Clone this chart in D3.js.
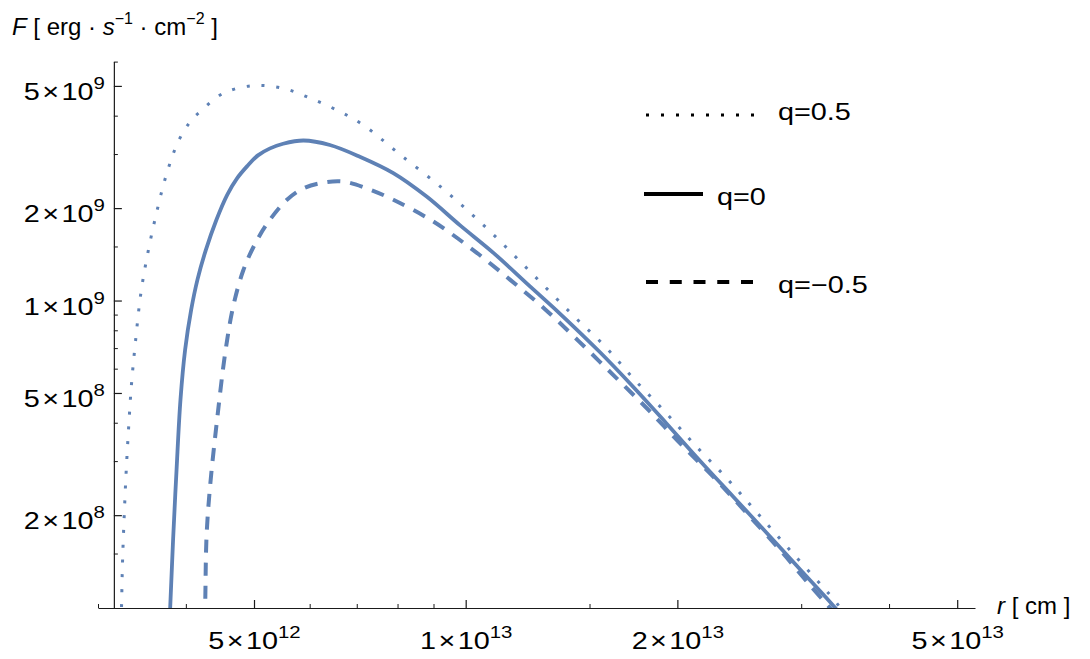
<!DOCTYPE html>
<html>
<head>
<meta charset="utf-8">
<script src="https://d3js.org/d3.v7.min.js"></script>
<style>
  body { margin: 0; background: #fff; }
  svg { display: block; font-family: "Liberation Sans", Arial, sans-serif; }
</style>
</head>
<body>
<script>
(function() {

    // q = 0.5 (dotted)
    const rDotted = [3.235e12, 3.24e12, 3.25e12, 3.267e12, 3.288e12, 3.315e12, 3.347e12, 3.39e12, 3.454e12, 3.534e12,
      3.628e12, 3.748e12, 3.898e12, 4.054e12, 4.19e12, 4.52e12, 4.99e12, 5.50e12, 6.01e12, 6.56e12,
      7.15e12, 8.02e12, 9.35e12, 1.077e13, 1.24e13, 1.42e13, 1.58e13, 1.74e13, 1.93e13, 2.13e13,
      2.35e13, 2.59e13, 2.92e13, 3.33e13, 3.43e13];
    const fDotted = [0.9e8, 1.0e8, 1.38e8, 1.93e8, 2.70e8, 3.79e8, 5.31e8, 7.27e8, 1.066e9, 1.44e9,
      1.90e9, 2.545e9, 3.28e9, 3.815e9, 4.12e9, 4.73e9, 5.01e9, 4.91e9, 4.56e9, 4.17e9,
      3.73e9, 3.02e9, 2.28e9, 1.70e9, 1.23e9, 8.97e8, 7.07e8, 5.51e8, 4.29e8, 3.34e8,
      2.64e8, 2.05e8, 1.50e8, 1.07e8, 0.98e8];

    // q = 0 (solid)
    const rSolid = [3.79e12, 3.80e12, 3.836e12, 3.88e12, 3.93e12, 3.99e12, 4.07e12, 4.155e12, 4.27e12, 4.42e12,
      4.58e12, 4.73e12, 4.89e12, 5.065e12, 5.27e12, 5.50e12, 5.88e12, 6.41e12, 7.07e12, 7.89e12,
      8.80e12, 9.81e12, 1.095e13, 1.22e13, 1.36e13, 1.55e13, 1.73e13, 1.93e13, 2.15e13, 2.40e13,
      2.68e13, 2.99e13, 3.35e13, 3.46e13];
    const fSolid = [0.9e8, 1.0e8, 1.66e8, 2.81e8, 4.75e8, 6.90e8, 9.32e8, 1.17e9, 1.46e9, 1.83e9,
      2.21e9, 2.50e9, 2.74e9, 2.97e9, 3.13e9, 3.24e9, 3.32e9, 3.21e9, 2.94e9, 2.60e9,
      2.18e9, 1.76e9, 1.43e9, 1.14e9, 9.09e8, 6.81e8, 5.24e8, 3.98e8, 3.02e8, 2.30e8,
      1.75e8, 1.33e8, 1.0e8, 0.91e8];

    // q = -0.5 (dashed)
    const rDashed = [4.25e12, 4.26e12, 4.28e12, 4.33e12, 4.43e12, 4.55e12, 4.67e12, 4.825e12, 5.00e12, 5.216e12,
      5.57e12, 5.88e12, 6.27e12, 6.70e12, 7.23e12, 7.89e12, 8.99e12, 1.025e13, 1.156e13, 1.30e13,
      1.45e13, 1.63e13, 1.82e13, 2.03e13, 2.26e13, 2.51e13, 2.80e13, 3.09e13, 3.32e13];
    const fDashed = [0.9e8, 1.0e8, 1.70e8, 2.48e8, 4.08e8, 6.75e8, 9.55e8, 1.25e9, 1.506e9, 1.776e9,
      2.13e9, 2.32e9, 2.42e9, 2.44e9, 2.32e9, 2.13e9, 1.81e9, 1.46e9, 1.17e9, 9.32e8,
      7.35e8, 5.65e8, 4.40e8, 3.38e8, 2.64e8, 2.03e8, 1.54e8, 1.18e8, 0.98e8];

    const xMajorTicks = [5e12, 1e13, 2e13, 5e13];
    const xMajorLabels = [["5", "12"], ["1", "13"], ["2", "13"], ["5", "13"]];
    const xMinorTicks = [3e12, 4e12, 6e12, 7e12, 8e12, 9e12, 1.5e13, 3e13, 4e13];

    const yMajorTicks = [2e8, 5e8, 1e9, 2e9, 5e9];
    const yMajorLabels = [["2", "8"], ["5", "8"], ["1", "9"], ["2", "9"], ["5", "9"]];
    const yMinorTicks = [1.5e8, 3e8, 4e8, 6e8, 7e8, 8e8, 9e8, 1.5e9, 3e9, 4e9, 6e9];

    const legendLabels = ["q=0.5", "q=0", "q=\u22120.5"];

    const lineColor = "#5e81b5";
    const axisColor = "#1a1a1a";
    const fontFamily = "Liberation Sans, Arial, sans-serif";
    const stretch = 1.2;   // the reference glyphs are wider than Liberation Sans
    let svgContainer = "";

    window.onload = function() {
      makeChart();
    }

    function makeChart() {
      svgContainer = d3.select("body")
        .append("svg")
        .attr("width", 1090)
        .attr("height", 659);

      let xScale = d3.scaleLog()
        .domain([3e12, 5.3e13])
        .range([98, 975]);

      let yScale = d3.scaleLog()
        .domain([1e8, 6e9])
        .range([607.6, 61.6]);

      drawAxes(xScale, yScale);

      svgContainer.append("clipPath")
        .attr("id", "plotClip")
        .append("rect")
        .attr("x", 98)
        .attr("y", 40)
        .attr("width", 877)
        .attr("height", 568);

      let line = d3.line()
        .x(d => xScale(d[0]))
        .y(d => yScale(d[1]))
        .curve(d3.curveCatmullRom.alpha(0.5));

      let series = [
        { r: rDotted, f: fDotted, width: 3, dash: "3,11.8" },
        { r: rSolid, f: fSolid, width: 3.8, dash: null },
        { r: rDashed, f: fDashed, width: 4, dash: "13,10" }
      ];

      let plot = svgContainer.append("g")
        .attr("clip-path", "url(#plotClip)");

      series.forEach(function(s) {
        plot.append("path")
          .datum(d3.zip(s.r, s.f))
          .attr("d", line)
          .attr("fill", "none")
          .attr("stroke", lineColor)
          .attr("stroke-width", s.width)
          .attr("stroke-dasharray", s.dash);
      });

      drawLegend();
    }

    function supLabels(axisG, ticks, labels) {
      axisG.selectAll(".tick text").each(function(d) {
        let lab = labels[ticks.indexOf(d)];
        let t = d3.select(this).text(null)
          .attr("transform", "scale(" + stretch + ",1)");
        t.append("tspan").text(lab[0]);
        t.append("tspan").attr("dx", 2).text("\u00d7");
        t.append("tspan").attr("dx", 2).text("10");
        t.append("tspan").attr("dy", -11).attr("font-size", 17).text(lab[1]);
      });
    }

    function drawAxes(xScale, yScale) {
      let yAxisAt = xScale(3.16e12);

      // x axis
      let xAxis = svgContainer.append("g")
        .attr("transform", "translate(0, 608)")
        .call(d3.axisBottom(xScale)
          .tickValues(xMajorTicks)
          .tickSizeInner(-8)
          .tickSizeOuter(0))
        .attr("color", axisColor)
        .attr("font-size", 24)
        .attr("font-family", fontFamily);
      xAxis.select(".domain").attr("stroke-width", 1.2);
      xAxis.selectAll(".tick line").attr("stroke-width", 1.2);
      xAxis.selectAll(".tick text").attr("y", 41).attr("dy", null).attr("fill", "#000");
      supLabels(xAxis, xMajorTicks, xMajorLabels);

      let xMinor = svgContainer.append("g")
        .attr("transform", "translate(0, 608)")
        .call(d3.axisBottom(xScale)
          .tickValues(xMinorTicks)
          .tickSizeInner(-4)
          .tickSizeOuter(0)
          .tickFormat(""))
        .attr("color", axisColor);
      xMinor.select(".domain").remove();

      // y axis
      let yAxis = svgContainer.append("g")
        .attr("transform", "translate(" + yAxisAt + ", 0)")
        .call(d3.axisLeft(yScale)
          .tickValues(yMajorTicks)
          .tickSizeInner(-8)
          .tickSizeOuter(0))
        .attr("color", axisColor)
        .attr("font-size", 24)
        .attr("font-family", fontFamily);
      yAxis.select(".domain").attr("stroke-width", 1.2);
      yAxis.selectAll(".tick line").attr("stroke-width", 1.2);
      yAxis.selectAll(".tick text").attr("x", -9 / stretch).attr("dy", 13.5).attr("fill", "#000");
      supLabels(yAxis, yMajorTicks, yMajorLabels);

      let yMinor = svgContainer.append("g")
        .attr("transform", "translate(" + yAxisAt + ", 0)")
        .call(d3.axisLeft(yScale)
          .tickValues(yMinorTicks)
          .tickSizeInner(-4)
          .tickSizeOuter(0)
          .tickFormat(""))
        .attr("color", axisColor);
      yMinor.select(".domain").remove();

      // y axis label
      let yLabel = svgContainer.append("text")
        .attr("x", 12)
        .attr("y", 35)
        .style("font-size", "24px")
        .attr("fill", "#000");
      yLabel.append("tspan").style("font-style", "italic").text("F");
      yLabel.append("tspan").text(" [ erg \u00b7 ");
      yLabel.append("tspan").style("font-style", "italic").text("s");
      yLabel.append("tspan").attr("dy", -11).style("font-size", "16px").text("\u22121");
      yLabel.append("tspan").attr("dy", 11).text(" \u00b7 cm");
      yLabel.append("tspan").attr("dy", -11).style("font-size", "16px").text("\u22122");
      yLabel.append("tspan").attr("dy", 11).text(" ]");

      // x axis label
      let xLabel = svgContainer.append("text")
        .attr("x", 997)
        .attr("y", 614)
        .style("font-size", "24px")
        .attr("fill", "#000");
      xLabel.append("tspan").style("font-style", "italic").text("r");
      xLabel.append("tspan").text(" [ cm ]");
    }

    function drawLegend() {
      svgContainer.append("line")
        .attr("x1", 646).attr("x2", 754)
        .attr("y1", 115).attr("y2", 115)
        .attr("stroke", "#000")
        .attr("stroke-width", 3)
        .attr("stroke-dasharray", "3,12");

      svgContainer.append("line")
        .attr("x1", 644).attr("x2", 703)
        .attr("y1", 194).attr("y2", 194)
        .attr("stroke", "#000")
        .attr("stroke-width", 4);

      svgContainer.append("line")
        .attr("x1", 646).attr("x2", 753)
        .attr("y1", 282).attr("y2", 282)
        .attr("stroke", "#000")
        .attr("stroke-width", 4)
        .attr("stroke-dasharray", "12,11.75");

      let pos = [[778, 120], [717, 205], [778, 293]];
      legendLabels.forEach(function(lab, i) {
        svgContainer.append("text")
          .attr("transform", "translate(" + pos[i][0] + "," + pos[i][1] + ") scale(" + stretch + ",1)")
          .style("font-size", "24px")
          .text(lab);
      });
    }
  })();
</script>
</body>
</html>
